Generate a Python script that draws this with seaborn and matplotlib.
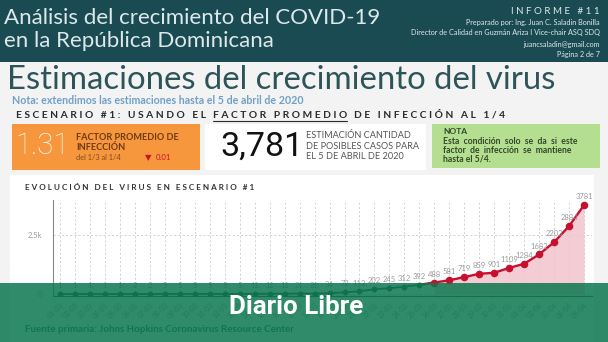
import matplotlib
matplotlib.use("Agg")
import matplotlib.pyplot as plt
import seaborn as sns
import pandas as pd
from matplotlib.patches import Rectangle
from matplotlib.lines import Line2D

# ---------------- data ----------------
fechas = ["01-03", "02-03", "03-03", "04-03", "05-03", "06-03", "07-03", "08-03",
          "09-03", "10-03", "11-03", "12-03", "13-03", "14-03", "15-03", "16-03",
          "17-03", "18-03", "19-03", "20-03", "21-03", "22-03", "23-03", "24-03",
          "25-03", "26-03", "27-03", "28-03", "29-03", "30-03", "31-03", "01-04",
          "02-04", "03-04", "04-04", "05-04"]
casos = [1, 1, 1, 1, 1, 2, 2, 5, 5, 5, 5, 5, 5, 11, 11, 11, 21, 21, 34, 72, 112,
         202, 245, 312, 392, 488, 581, 719, 859, 901, 1109, 1284, 1682, 2203, 2884, 3781]
n_reales = 25          # first 25 days are observed cases, the rest are estimates
ytick_vals = [0, 2500]
ytick_labels = ["0", "2.5k"]
factor = "1.31"
factor_cambio = "0.01"
estimacion = "3,781"

# ---------------- style ----------------
sns.set_style("white")
plt.rcParams["font.family"] = ["Lato", "DejaVu Sans"]
NUMF = ["Roboto", "DejaVu Sans"]

W, H = 608, 342
fig = plt.figure(figsize=(W / 100, H / 100), dpi=100)
fig.patch.set_facecolor("#f3f3f3")
renderer = fig.canvas.get_renderer()


def box(x0, y0, x1, y1, color, z=-1, **kw):
    fig.patches.append(Rectangle((x0 / W, 1 - y1 / H), (x1 - x0) / W, (y1 - y0) / H,
                                 transform=fig.transFigure, facecolor=color,
                                 edgecolor="none", zorder=z, **kw))


def txt(x, y, s, **kw):
    kw.setdefault("va", "center")
    kw.setdefault("ha", "left")
    return fig.text(x / W, 1 - y / H, s, **kw)


def spaced(s):
    return "   ".join(" ".join(w) for w in s.split(" "))


# backgrounds
box(0, 0, 608, 62, "#1b4b52")
box(10, 175, 594, 342, "white")
box(12, 124, 200, 170, "#f6973e")
box(205, 124, 426, 170, "white")
box(432, 124, 600, 168, "#b5df90")

# header
hc = "#dde8ea"
txt(4, 18, "Análisis del crecimiento del COVID-19", fontsize=16, color=hc)
txt(4, 41, "en la República Dominicana", fontsize=16, color=hc)
txt(600, 12, "I N F O R M E   # 1 1", fontsize=7, color=hc, ha="right")
txt(600, 23, "Preparado por: Ing. Juan C. Saladin Bonilla", fontsize=5.2, color=hc, ha="right")
txt(600, 33, "Director de Calidad en Guzmán Ariza I Vice-chair ASQ SDQ", fontsize=5.2, color=hc, ha="right")
txt(600, 44, "juancsaladin@gmail.com", fontsize=5.2, color=hc, ha="right")
txt(600, 54, "Página 2 de 7", fontsize=5.2, color=hc, ha="right")

txt(7, 80, "Estimaciones del crecimiento del virus", fontsize=23.7, color="#2d5459")
txt(12, 100, "Nota: extendimos las estimaciones hasta el 5 de abril de 2020",
    fontsize=7.7, color="#6fa0c8", weight="bold")

# scenario heading with underline on the middle part
hx = 16
parts = [spaced("ESCENARIO #1: USANDO EL"), spaced("FACTOR PROMEDIO"),
         spaced("DE INFECCIÓN AL 1/4")]
for k, p in enumerate(parts):
    t = txt(hx, 115, p, fontsize=7.4, weight="bold", color="#2b2b2b")
    bb = t.get_window_extent(renderer)
    if k == 1:
        fig.lines.append(Line2D([bb.x0 / W, bb.x1 / W], [1 - 120.5 / H, 1 - 120.5 / H],
                                transform=fig.transFigure, color="#2b2b2b", lw=0.8))
    hx = bb.x1 + 7

# orange box
txt(15, 146, factor, fontsize=21, color="white", family=NUMF, weight="light")
bc = "#6e3a12"
txt(76, 137, "FACTOR PROMEDIO DE", fontsize=6.6, weight="bold", color=bc)
txt(76, 147.5, "INFECCIÓN", fontsize=6.6, weight="bold", color=bc)
txt(76, 158, "del 1/3 al 1/4", fontsize=5.3, color="#7d4a1c")
txt(145, 158, "▼", fontsize=6, color="#d0112b", family="DejaVu Sans")
txt(156, 158, factor_cambio, fontsize=5.6, color="#d0112b")

# white box
txt(220, 147, estimacion, fontsize=24.5, color="#111111", family=NUMF)
gc = "#555555"
txt(306, 136, "ESTIMACIÓN CANTIDAD", fontsize=6.6, color=gc)
txt(306, 146.5, "DE POSIBLES CASOS PARA", fontsize=6.6, color=gc)
txt(306, 157, "EL 5 DE ABRIL DE 2020", fontsize=6.6, color=gc)

# green note
nc = "#34472a"
txt(443, 132, "NOTA", fontsize=6.0, weight="bold", color=nc)
txt(443, 141.5, "Esta  condición  solo  se  da  si  este", fontsize=6.2, weight="bold", color=nc)
txt(443, 150.5, "factor  de  infección  se  mantiene", fontsize=6.2, weight="bold", color=nc)
txt(443, 159.5, "hasta el 5/4.", fontsize=6.2, weight="bold", color=nc)

txt(25, 188, spaced("EVOLUCIÓN DEL VIRUS EN ESCENARIO #1"), fontsize=5.9,
    weight="bold", color="#333333")

# ---------------- chart ----------------
verde = "#2c5641"
rojo = "#c8102e"
df = pd.DataFrame({"dia": range(len(casos)), "casos": casos, "fecha": fechas})
real = df.iloc[:n_reales]
est = df.iloc[n_reales:]
ax = fig.add_axes([53 / W, 1 - 296 / H, (592 - 53) / W, (296 - 200) / H])
ax.set_facecolor("none")
ax.fill_between(est["dia"], est["casos"], color="#f3c3cc", alpha=0.85, lw=0, zorder=1)
sns.lineplot(data=df.iloc[n_reales - 1:], x="dia", y="casos", color=rojo, lw=1.7,
             ax=ax, zorder=3)
sns.lineplot(data=real, x="dia", y="casos", color=verde, lw=1.3, marker="o",
             markersize=4.2, markeredgewidth=0, ax=ax, zorder=4)
sns.scatterplot(data=est, x="dia", y="casos", color=rojo, s=30, linewidth=0,
                ax=ax, zorder=5)
for d, v in zip(df["dia"], df["casos"]):
    ax.annotate(str(v), (d, v), xytext=(0, 3.5), textcoords="offset points",
                ha="center", va="bottom", fontsize=5.5, color="#9a9a9a", zorder=6)

ax.set_xlim(-0.47, len(casos) - 0.47)
ax.set_ylim(-85, 3993)
ax.set_xticks(df["dia"])
ax.set_xticklabels(fechas, rotation=45, ha="right", rotation_mode="anchor",
                   fontsize=5, color="#9a9a9a")
ax.set_yticks(ytick_vals)
ax.set_yticklabels(ytick_labels, fontsize=5.5, color="#9a9a9a")
ax.tick_params(length=0, pad=8)
ax.tick_params(axis="x", pad=4)
ax.grid(True, ls=(0, (2.5, 2.5)), color="#cccccc", lw=0.6)
ax.set_axisbelow(True)
for s in ["top", "right"]:
    ax.spines[s].set_visible(False)
ax.spines["left"].set_color("#888888")
ax.spines["left"].set_linewidth(0.8)
ax.spines["bottom"].set_color("#444444")
ax.spines["bottom"].set_linewidth(0.8)
ax.set_xlabel("")
ax.set_ylabel("")

txt(25, 330, "Fuente primaria: Johns Hopkins Coronavirus Resource Center",
    fontsize=7.0, weight="bold", color="#2a6a6a", zorder=2)

# Diario Libre overlay
box(0, 283, 608, 342, "#0b7750", z=10, alpha=0.85)
txt(229, 307, "Diario Libre", fontsize=18.7, weight="bold", color="white",
    family="Roboto", zorder=11)

fig.savefig("out.png", dpi=100, facecolor=fig.get_facecolor())
